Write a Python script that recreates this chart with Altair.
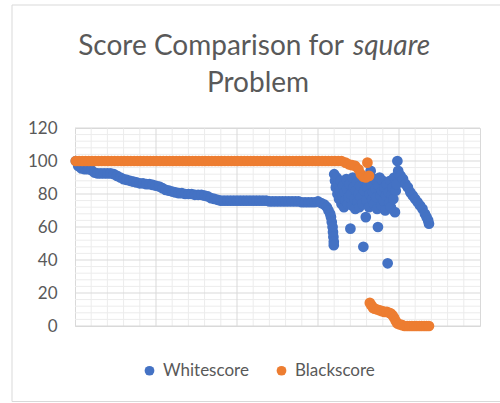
import altair as alt
import pandas as pd

# ---- data ----
white_x = [1, 4, 8, 12, 16, 20, 24, 28, 32, 36, 40, 44, 48, 52, 56, 60, 64, 68, 72, 76,
           80, 84, 88, 92, 96, 100, 104, 108, 112, 116, 120, 124, 128, 132, 136, 140, 144, 148, 152, 156,
           160, 164, 168, 172, 176, 180, 184, 188, 192, 196, 200, 204, 208, 212, 216, 220, 224, 228, 232, 236,
           240, 244, 248, 252, 256, 260, 264, 268, 272, 276, 280, 284, 288, 292, 296, 300, 304, 308, 311, 313,
           315, 316, 317, 318, 318.5, 319, 319.5, 319.5,
           320, 321, 322, 323, 324, 325, 326, 327, 328, 329, 330, 331, 332, 333, 334, 335, 336, 337, 338, 339,
           340, 341, 342, 343, 344, 345, 346, 347, 348, 349, 350, 351, 352, 353, 354, 355, 356, 357, 358, 359,
           360, 361, 363, 364, 365, 366, 367, 368, 369, 370, 371, 372, 373, 374, 375, 376, 377, 378, 379, 380,
           381, 382, 383, 384, 385, 386, 387, 388, 389, 390, 391, 392, 393, 394, 395, 396, 397, 398, 399, 400,
           402, 405, 408, 411, 414, 417, 420, 423, 426, 429, 432, 434, 436, 437]
white_y = [100, 97, 95.5, 95, 95, 94.5, 93, 92.5, 92.5, 92.5, 92.5, 92.5, 92, 91, 90, 89, 88.5, 88, 87.5, 87,
           86.5, 86.5, 86, 86, 85.5, 85, 84.5, 83.5, 82.5, 82, 81.5, 81, 80.5, 80.5, 80, 80, 80, 79.5, 79.5, 79.5,
           79, 78.5, 77.5, 77, 76.5, 76, 76, 76, 76, 76, 76, 76, 76, 76, 76, 76, 76, 76, 76, 76,
           75.5, 75.5, 75.5, 75.5, 75.5, 75.5, 75.5, 75.5, 75.5, 75.5, 75, 75, 75, 75, 75, 75.5, 74.5, 73.5, 72, 70,
           68, 66, 63, 60, 57, 54, 51, 49,
           92, 88, 84, 90, 80, 86, 77, 82, 88, 74, 79, 85, 72, 81, 76, 89, 83, 74, 78, 86,
           59, 80, 73, 90, 84, 77, 71, 82, 87, 75, 80, 72, 85, 78, 91, 74, 48, 82, 88, 66,
           76, 84, 72, 80, 94, 86, 77, 81, 74, 89, 83, 78, 71, 60, 85, 90, 79, 73, 82, 88,
           76, 84, 70, 79, 86, 38, 81, 75, 88, 72, 80, 84, 77, 90, 69, 82, 86, 100, 94, 92,
           91, 89, 86, 84, 81, 79, 77, 75, 73, 71, 68, 66, 64, 62]

black_x = [1, 5, 9, 13, 17, 21, 25, 29, 33, 37, 41, 45, 49, 53, 57, 61, 65, 69, 73, 77,
           81, 85, 89, 93, 97, 101, 105, 109, 113, 117, 121, 125, 129, 133, 137, 141, 145, 149, 153, 157,
           161, 165, 169, 173, 177, 181, 185, 189, 193, 197, 201, 205, 209, 213, 217, 221, 225, 229, 233, 237,
           241, 245, 249, 253, 257, 261, 265, 269, 273, 277, 281, 285, 289, 293, 297, 301, 305, 309, 313, 317,
           321, 325, 329, 334, 338, 342, 346, 350, 353, 356, 359, 361, 363,
           364, 366, 368, 370, 373, 376, 379, 382, 385, 388, 390, 392, 394, 396, 398, 401,
           404, 407, 410, 413, 416, 419, 422, 425, 428, 431, 434, 437]
black_y = [100, 100, 100, 100, 100, 100, 100, 100, 100, 100, 100, 100, 100, 100, 100, 100, 100, 100, 100, 100,
           100, 100, 100, 100, 100, 100, 100, 100, 100, 100, 100, 100, 100, 100, 100, 100, 100, 100, 100, 100,
           100, 100, 100, 100, 100, 100, 100, 100, 100, 100, 100, 100, 100, 100, 100, 100, 100, 100, 100, 100,
           100, 100, 100, 100, 100, 100, 100, 100, 100, 100, 100, 100, 100, 100, 100, 100, 100, 100, 100, 100,
           100, 100, 100, 99, 98, 97.5, 97, 95, 92, 90.5, 90, 99, 91,
           14, 12.5, 11, 10.5, 10, 9.5, 9, 8.5, 8.5, 8, 7.5, 6.5, 5, 3, 1.5, 1,
           0.5, 0, 0, 0, 0, 0, 0, 0, 0, 0, 0, 0]

y_major = [0, 20, 40, 60, 80, 100, 120]
y_minor = [4, 8, 12, 16, 24, 28, 32, 36, 44, 48, 52, 56, 64, 68, 72, 76, 84, 88, 92, 96, 104, 108, 112, 116]
x_major = [100, 200, 300, 400]
x_minor = [20, 40, 60, 80, 120, 140, 160, 180, 220, 240, 260, 280, 320, 340, 360, 380, 420, 440, 460, 480]

series_names = ["Whitescore", "Blackscore"]
series_colors = ["#4472C4", "#ED7D31"]

title_line1 = "Score Comparison for"
title_italic = "square"
title_line2 = "Problem"

# ---- tables ----
points = pd.concat([
    pd.DataFrame({"idx": white_x, "score": white_y, "series": "Whitescore"}),
    pd.DataFrame({"idx": black_x, "score": black_y, "series": "Blackscore"}),
], ignore_index=True)

FONT = "Lato"
GREY = "#595959"

xs = alt.Scale(domain=[0, 500], nice=False, zero=False)
ys = alt.Scale(domain=[0, 120], nice=False)
y_axis = alt.Axis(values=y_major, grid=False, ticks=False, domain=False, title=None,
                  labelFont=FONT, labelFontSize=17, labelColor=GREY, labelPadding=18)

border = alt.Chart(pd.DataFrame({"a": [0]})).mark_rect(
    fillOpacity=0, stroke="#d9d9d9", strokeWidth=1
).encode(x=alt.value(-63), x2=alt.value(600), y=alt.value(-123), y2=alt.value(273.5))

hminor = alt.Chart(pd.DataFrame({"v": y_minor})).mark_rule(color="#ececec", strokeWidth=1).encode(
    y=alt.Y("v:Q", scale=ys, axis=y_axis, title=None))
vminor = alt.Chart(pd.DataFrame({"v": x_minor})).mark_rule(color="#ececec", strokeWidth=1).encode(
    x=alt.X("v:Q", scale=xs, axis=None))
hmajor = alt.Chart(pd.DataFrame({"v": y_major})).mark_rule(color="#d9d9d9", strokeWidth=1).encode(
    y=alt.Y("v:Q", scale=ys, axis=y_axis, title=None))
vmajor = alt.Chart(pd.DataFrame({"v": x_major})).mark_rule(color="#d9d9d9", strokeWidth=1).encode(
    x=alt.X("v:Q", scale=xs, axis=None))

pts = alt.Chart(points).mark_circle(size=115, opacity=1).encode(
    x=alt.X("idx:Q", scale=xs, axis=None),
    y=alt.Y("score:Q", scale=ys, axis=y_axis, title=None),
    color=alt.Color("series:N", scale=alt.Scale(domain=series_names, range=series_colors),
                    sort=series_names,
                    legend=alt.Legend(orient="none", legendX=66, legendY=234, direction="horizontal",
                                      title=None, symbolType="circle", symbolSize=95,
                                      symbolStrokeWidth=0, labelFont=FONT, labelFontSize=17,
                                      labelColor=GREY, columnPadding=24, labelOffset=5, padding=0)),
)

t1 = alt.Chart(pd.DataFrame({"t": [title_line1]})).mark_text(
    align="right", baseline="alphabetic", font=FONT, fontSize=28, color=GREY
).encode(text="t:N", x=alt.value(269), y=alt.value(-73))
t2 = alt.Chart(pd.DataFrame({"t": [title_italic]})).mark_text(
    align="left", baseline="alphabetic", font=FONT, fontSize=28, fontStyle="italic", color=GREY
).encode(text="t:N", x=alt.value(278), y=alt.value(-73))
t3 = alt.Chart(pd.DataFrame({"t": [title_line2]})).mark_text(
    align="center", baseline="alphabetic", font=FONT, fontSize=28, color=GREY
).encode(text="t:N", x=alt.value(183), y=alt.value(-36))

chart = alt.layer(border, hminor, vminor, hmajor, vmajor, pts, t1, t2, t3).properties(
    width=405, height=198,
    autosize=alt.AutoSizeParams(type="none"),
    padding={"left": 75, "top": 128, "right": 20, "bottom": 77},
    background="white",
).configure_view(stroke="#d9d9d9", strokeWidth=1)

chart.save("out.html", embed_options={"renderer": "svg", "actions": False})
